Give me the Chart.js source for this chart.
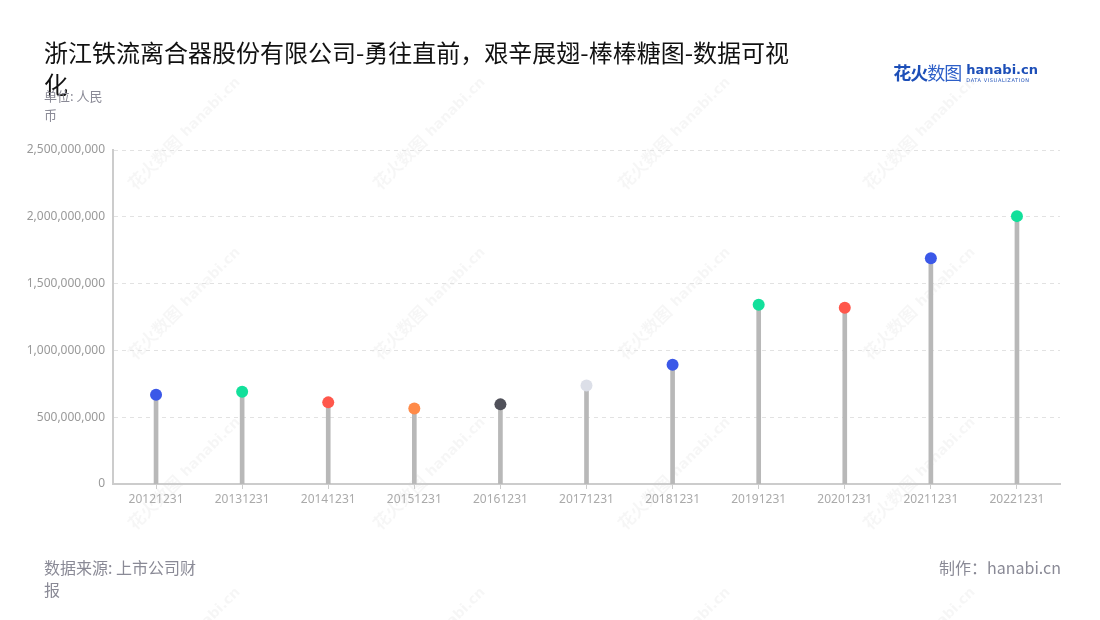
<!DOCTYPE html>
<html>
<head>
<meta charset="utf-8">
<script src="https://cdn.jsdelivr.net/npm/chart.js"></script>
<style>
body{margin:0;padding:0;background:#fff;font-family:"Noto Sans CJK SC","Noto Sans",sans-serif}
#wrap{position:relative;width:1100px;height:620px;overflow:hidden}
#canvas{position:absolute;left:0;top:0}
.txt{position:absolute}
#title{left:44px;top:36px;width:760px;font-size:24px;line-height:32px;color:#111}
#unit{left:44px;top:86px;width:66px;font-size:13px;line-height:19px;color:#8a8a96}
#source{left:44px;top:556px;width:160px;font-size:16px;line-height:22px;color:#8a8a96}
#maker{right:39px;top:556px;font-size:16px;line-height:22px;color:#8a8a96}
#logo{right:62px;top:60px;display:flex;align-items:flex-start}
#logo .cn{font-size:18px;line-height:24px;color:#1d4fb8;font-weight:bold;letter-spacing:-1px}
#logo .cn span{font-weight:normal;color:#2d5fc8}
#logo .en{margin-left:5px;margin-top:3px;font-family:"DejaVu Sans",sans-serif}
#logo .en b{display:block;font-size:13px;line-height:14px;color:#1d4fb8}
#logo .en i{display:block;font-style:normal;font-size:5px;line-height:6px;color:#1d4fb8;letter-spacing:0.6px}
</style>
</head>
<body>
<div id="wrap">
<canvas id="canvas" width="1100" height="620"></canvas>
<div class="txt" id="title">浙江铁流离合器股份有限公司-勇往直前，艰辛展翅-棒棒糖图-数据可视化</div>
<div class="txt" id="unit">单位: 人民币</div>
<div class="txt" id="logo"><div class="cn">花火<span>数图</span></div><div class="en"><b>hanabi.cn</b><i>DATA VISUALIZATION</i></div></div>
<div class="txt" id="source">数据来源: 上市公司财报</div>
<div class="txt" id="maker">制作：hanabi.cn</div>
</div>
<script>
// data
const years = ['20121231','20131231','20141231','20151231','20161231','20171231','20181231','20191231','20201231','20211231','20221231'];
const revenue = [668000000,691000000,611000000,566000000,596000000,738000000,893000000,1341000000,1319000000,1690000000,2005000000];
const dotColors = ['#3b58e8','#12e09b','#ff574b','#ff8a48','#50515a','#dcdfe8','#3b58e8','#12e09b','#ff574b','#3b58e8','#12e09b'];

const watermark = {
    id:'watermark',
    beforeDraw(chart) {
        let ctx = chart.ctx;
        ctx.save();
        ctx.fillStyle = 'rgba(0,0,0,0.035)';
        for (let row=0; row<4; row++) {
            for (let col=0; col<4; col++) {
                let x = 165 + col*245, y = 150 + row*170;
                ctx.save();
                ctx.translate(x,y);
                ctx.rotate(-Math.PI/4);
                ctx.font = 'bold 17px "Noto Sans CJK SC"';
                ctx.fillText('花火数图',-50,8);
                ctx.font = 'bold 14px "DejaVu Sans"';
                ctx.fillText('hanabi.cn',24,6);
                ctx.restore();
            }
        }
        ctx.restore();
    }
};

let ctx = document.getElementById('canvas').getContext('2d');
new Chart(ctx,{
    data:{
        labels:years,
        datasets:[
            {type:'line',data:revenue,showLine:false,pointRadius:6,pointHoverRadius:6,pointBorderWidth:0,
             pointBackgroundColor:dotColors,pointBorderColor:dotColors,order:0},
            {type:'bar',data:revenue,backgroundColor:'#b8b8b8',barThickness:4,order:1}
        ]
    },
    options:{
        responsive:false,
        animation:false,
        events:[],
        layout:{padding:{left:0,right:40,top:150,bottom:0}},
        plugins:{legend:{display:false},tooltip:{enabled:false}},
        scales:{
            x:{
                offset:true,
                grid:{offset:false,drawOnChartArea:false,drawTicks:true,tickLength:5,color:'#cccccc'},
                border:{color:'#cccccc',width:2},
                ticks:{color:'#aaaaaa',font:{size:12,family:'"Noto Sans"'},padding:3,maxRotation:0},
                afterFit(scale){scale.height=136;}
            },
            y:{
                min:0,max:2500000000,
                grid:{color:'#e2e2e2',drawTicks:false,lineWidth:ctx=>ctx.tick.value===0?0:1},
                border:{color:'#cccccc',width:2,dash:[4,4]},
                ticks:{stepSize:500000000,color:'#999999',font:{size:12,family:'"Noto Sans"'},padding:8,
                    callback:v=>v.toLocaleString('en-US')},
                afterFit(scale){scale.width=113;}
            }
        }
    },
    plugins:[watermark]
});
</script>
</body>
</html>
